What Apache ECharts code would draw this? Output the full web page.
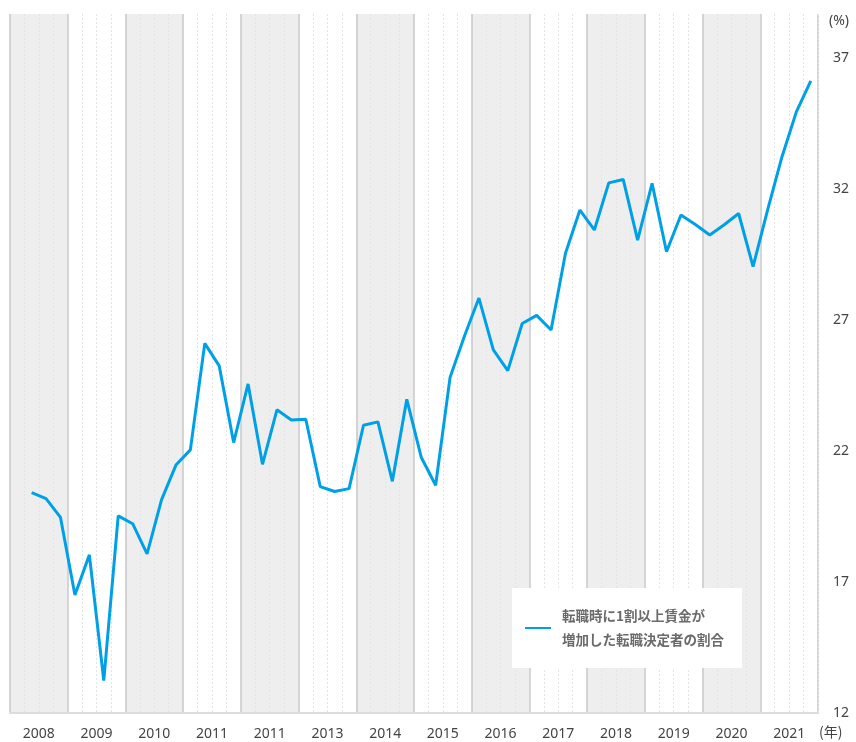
<!DOCTYPE html>
<html>
<head>
<meta charset="utf-8">
<script src="https://cdn.jsdelivr.net/npm/echarts@6/dist/echarts.min.js"></script>
<style>
html,body{margin:0;padding:0;background:#fff;}
#chart{width:856px;height:742px;}
</style>
</head>
<body>
<div id="chart"></div>
<script>
// Year band labels (as printed in the original, including the repeated 2011)
var yearLabels = ['2008','2009','2010','2011','2011','2013','2014','2015','2016','2017','2018','2019','2020','2021'];
// Quarterly categories (4 per year band)
var quarterCats = [];
yearLabels.forEach(function (y, i) { for (var q = 1; q <= 4; q++) quarterCats.push(i + '-Q' + q); });
// Share of job changers whose wage rose by 10% or more (%), first quarter has no value
var shareValues = ['-',
  20.42, 20.19, 19.47,
  16.51, 18.04, 13.24, 19.53,
  19.23, 18.08, 20.14, 21.47,
  22.05, 26.12, 25.26, 22.33,
  24.57, 21.50, 23.58, 23.19,
  23.22, 20.65, 20.46, 20.57,
  22.99, 23.12, 20.85, 23.98,
  21.77, 20.70, 24.82, 26.40,
  27.85, 25.87, 25.08, 26.88,
  27.19, 26.63, 29.56, 31.21,
  30.45, 32.25, 32.38, 30.06,
  32.23, 29.62, 31.02, 30.66,
  30.26, 30.65, 31.08, 29.05,
  31.20, 33.24, 34.96, 36.15
];
var seriesName = '転職時に1割以上賃金が\n増加した転職決定者の割合';
var yTicks = [12, 17, 22, 27, 32, 37];

var chart = echarts.init(document.getElementById('chart'), null, {renderer: 'canvas'});
var latin = '"Noto Sans", "Noto Sans CJK JP", sans-serif';
chart.setOption({
  animation: false,
  backgroundColor: '#ffffff',
  grid: {left: 10, right: 38, top: 14, bottom: 29, containLabel: false},
  xAxis: [{
    type: 'category',
    data: yearLabels,
    boundaryGap: true,
    position: 'bottom',
    axisLine: {show: true, lineStyle: {color: '#dcdcdc', width: 2}},
    axisTick: {show: false},
    axisLabel: {color: '#444', fontSize: 14, margin: 14, fontFamily: latin, interval: 0},
    splitArea: {show: true, areaStyle: {color: ['#eeeeee', '#ffffff']}},
    splitLine: {show: true, interval: 0, lineStyle: {color: '#c9c9c9', width: 1.5}}
  }, {
    type: 'category',
    data: quarterCats,
    boundaryGap: true,
    position: 'top',
    axisLine: {show: false},
    axisTick: {show: false},
    axisLabel: {show: false},
    splitLine: {show: true, interval: function (idx) { return idx % 4 !== 0; },
      lineStyle: {color: '#e4e4e4', width: 1, type: [2, 2]}}
  }],
  yAxis: {
    type: 'value',
    position: 'right',
    min: 12,
    max: 38.7,
    interval: 5,
    axisLine: {show: false},
    axisTick: {show: false},
    axisLabel: {color: '#444', fontSize: 14, margin: 15, fontFamily: latin, showMaxLabel: false,
      formatter: function (v) { return yTicks.indexOf(v) >= 0 ? String(v) : ''; }},
    splitLine: {show: true, showMaxLine: false, lineStyle: {color: '#e4e4e4', width: 1}}
  },
  legend: {
    show: true,
    left: 512,
    top: 588,
    orient: 'vertical',
    backgroundColor: '#ffffff',
    padding: [16, 18, 16, 13],
    icon: 'rect',
    itemWidth: 26,
    itemHeight: 2,
    data: [seriesName],
    textStyle: {color: '#6a6a6a', fontSize: 13.5, fontWeight: 'bold', lineHeight: 24,
      fontFamily: '"Noto Sans CJK JP", sans-serif', padding: [0, 0, 0, 6]}
  },
  series: [{
    name: seriesName,
    type: 'line',
    xAxisIndex: 1,
    data: shareValues,
    symbol: 'none',
    lineStyle: {color: '#00a0e6', width: 3},
    itemStyle: {color: '#00a0e6'},
    z: 5
  }],
  graphic: [
    {type: 'text', left: 829, top: 14, style: {text: '(%)', fill: '#444', font: '14px ' + latin}},
    {type: 'text', left: 819, top: 725, style: {text: '(年)', fill: '#444', font: '14px "Noto Sans CJK JP", sans-serif'}}
  ]
});
</script>
</body>
</html>
